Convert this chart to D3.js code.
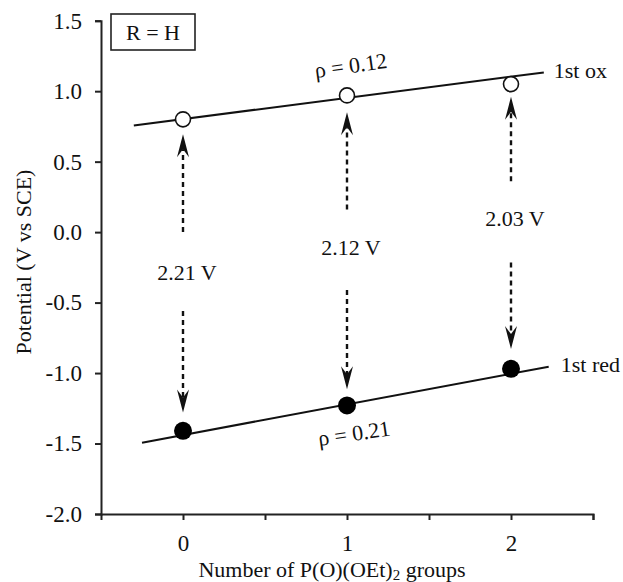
<!DOCTYPE html>
<html>
<head>
<meta charset="utf-8">
<script src="https://cdn.jsdelivr.net/npm/d3@7"></script>
<style>
  body { margin: 0; background: #fff; }
  svg text { font-family: 'Liberation Serif', 'DejaVu Serif', serif; fill: #111; }
</style>
</head>
<body>
<svg id="chart" width="623" height="582"></svg>
<script>
// data
var groups = [0, 1, 2];
var oxPotential = [0.80, 0.97, 1.05];
var redPotential = [-1.41, -1.23, -0.97];
var gapLabels = ["2.21 V", "2.12 V", "2.03 V"];

// fitted lines (end points, in data units)
var oxFitX = [-0.3, 2.2], oxFitY = [0.757, 1.133];
var redFitX = [-0.25, 2.23], redFitY = [-1.494, -0.955];

// dashed arrows between the two waves (data units)
var upFrom = [0.0, 0.16, 0.36], upTo = [0.695, 0.85, 0.96];
var downFrom = [-0.56, -0.41, -0.215], downTo = [-1.28, -1.115, -0.83];
var gapLabelY = [-0.29, -0.11, 0.09];

var xTicks = [0, 0.5, 1, 1.5, 2, 2.5];
var yTicks = [-2.0, -1.5, -1.0, -0.5, 0.0, 0.5, 1.0, 1.5];

var FONT = "'Liberation Serif', 'DejaVu Serif', serif";

var svg = d3.select("#chart");
var x = d3.scaleLinear().domain([-0.5, 2.5]).range([101, 593]);
var y = d3.scaleLinear().domain([-2.0, 1.5]).range([514, 20.7]);

// axes
var xAxis = svg.append("g").attr("transform", "translate(0,514)")
  .call(d3.axisBottom(x).tickValues(xTicks).tickSizeOuter(0).tickSize(6).tickPadding(15)
    .tickFormat(function(d){ return d % 1 === 0 ? d : ""; }));
var yAxis = svg.append("g").attr("transform", "translate(101,0)")
  .call(d3.axisLeft(y).tickValues(yTicks).tickSizeOuter(0).tickSize(6).tickPadding(13)
    .tickFormat(function(d){ return d.toFixed(1); }));
[xAxis, yAxis].forEach(function(a){
  a.attr("font-family", FONT);
  a.selectAll("path, line").attr("stroke", "#222").attr("stroke-width", 2);
  a.selectAll("text").attr("font-size", 23).attr("fill", "#111");
});

svg.append("text").attr("x", 332).attr("y", 577).attr("text-anchor", "middle").attr("font-size", 22)
  .html('Number of P(O)(OEt)<tspan font-size="15" dy="3">2</tspan><tspan dy="-3"> groups</tspan>');
svg.append("text").attr("transform", "translate(31,262) rotate(-90)").attr("text-anchor", "middle")
  .attr("font-size", 22).text("Potential (V vs SCE)");

// R = H box
svg.append("rect").attr("x", 111).attr("y", 14).attr("width", 84).attr("height", 36)
  .attr("fill", "none").attr("stroke", "#222").attr("stroke-width", 1.6);
svg.append("text").attr("x", 153).attr("y", 40).attr("text-anchor", "middle").attr("font-size", 22).text("R = H");

// fit lines
var line = d3.line().x(function(d){ return x(d[0]); }).y(function(d){ return y(d[1]); });
svg.append("path").attr("d", line(d3.zip(oxFitX, oxFitY))).attr("stroke", "#111").attr("stroke-width", 2).attr("fill", "none");
svg.append("path").attr("d", line(d3.zip(redFitX, redFitY))).attr("stroke", "#111").attr("stroke-width", 2).attr("fill", "none");

// dashed arrows
function arrow(xv, from, to) {
  var px = x(xv), y0 = y(from), y1 = y(to);
  var dir = y1 < y0 ? 1 : -1; // 1 = pointing up
  var notch = y1 + dir * 15, barb = y1 + dir * 23;
  svg.append("line").attr("x1", px).attr("x2", px).attr("y1", y0).attr("y2", notch)
    .attr("stroke", "#111").attr("stroke-width", 2.4).attr("stroke-dasharray", "5,4");
  svg.append("path").attr("d", "M" + px + "," + y1 + "L" + (px + 6) + "," + barb + "L" + px + "," + notch + "L" + (px - 6) + "," + barb + "Z")
    .attr("fill", "#111");
}
groups.forEach(function(g, i){
  arrow(g, upFrom[i], upTo[i]);
  arrow(g, downFrom[i], downTo[i]);
});

svg.selectAll(".gap").data(groups).enter().append("text")
  .attr("x", function(d){ return x(d) + 4; })
  .attr("y", function(d, i){ return y(gapLabelY[i]) + 7; })
  .attr("text-anchor", "middle").attr("font-size", 22)
  .text(function(d, i){ return gapLabels[i]; });

// points
svg.selectAll(".ox").data(groups).enter().append("circle")
  .attr("cx", function(d){ return x(d); }).attr("cy", function(d, i){ return y(oxPotential[i]); })
  .attr("r", 7.5).attr("fill", "#fff").attr("stroke", "#111").attr("stroke-width", 1.6);
svg.selectAll(".red").data(groups).enter().append("circle")
  .attr("cx", function(d){ return x(d); }).attr("cy", function(d, i){ return y(redPotential[i]); })
  .attr("r", 9).attr("fill", "#000");

// labels
svg.append("text").attr("x", x(oxFitX[1]) + 10).attr("y", y(oxFitY[1]) + 6).attr("font-size", 22).text("1st ox");
svg.append("text").attr("x", x(redFitX[1]) + 12).attr("y", y(redFitY[1]) + 5).attr("font-size", 22).text("1st red");
svg.append("text").attr("transform", "translate(" + x(1.03) + "," + y(1.13) + ") rotate(-8)")
  .attr("text-anchor", "middle").attr("font-size", 22).text("ρ = 0.12");
svg.append("text").attr("transform", "translate(" + x(1.05) + "," + y(-1.48) + ") rotate(-8.5)")
  .attr("text-anchor", "middle").attr("font-size", 22).text("ρ = 0.21");
</script>
</body>
</html>
